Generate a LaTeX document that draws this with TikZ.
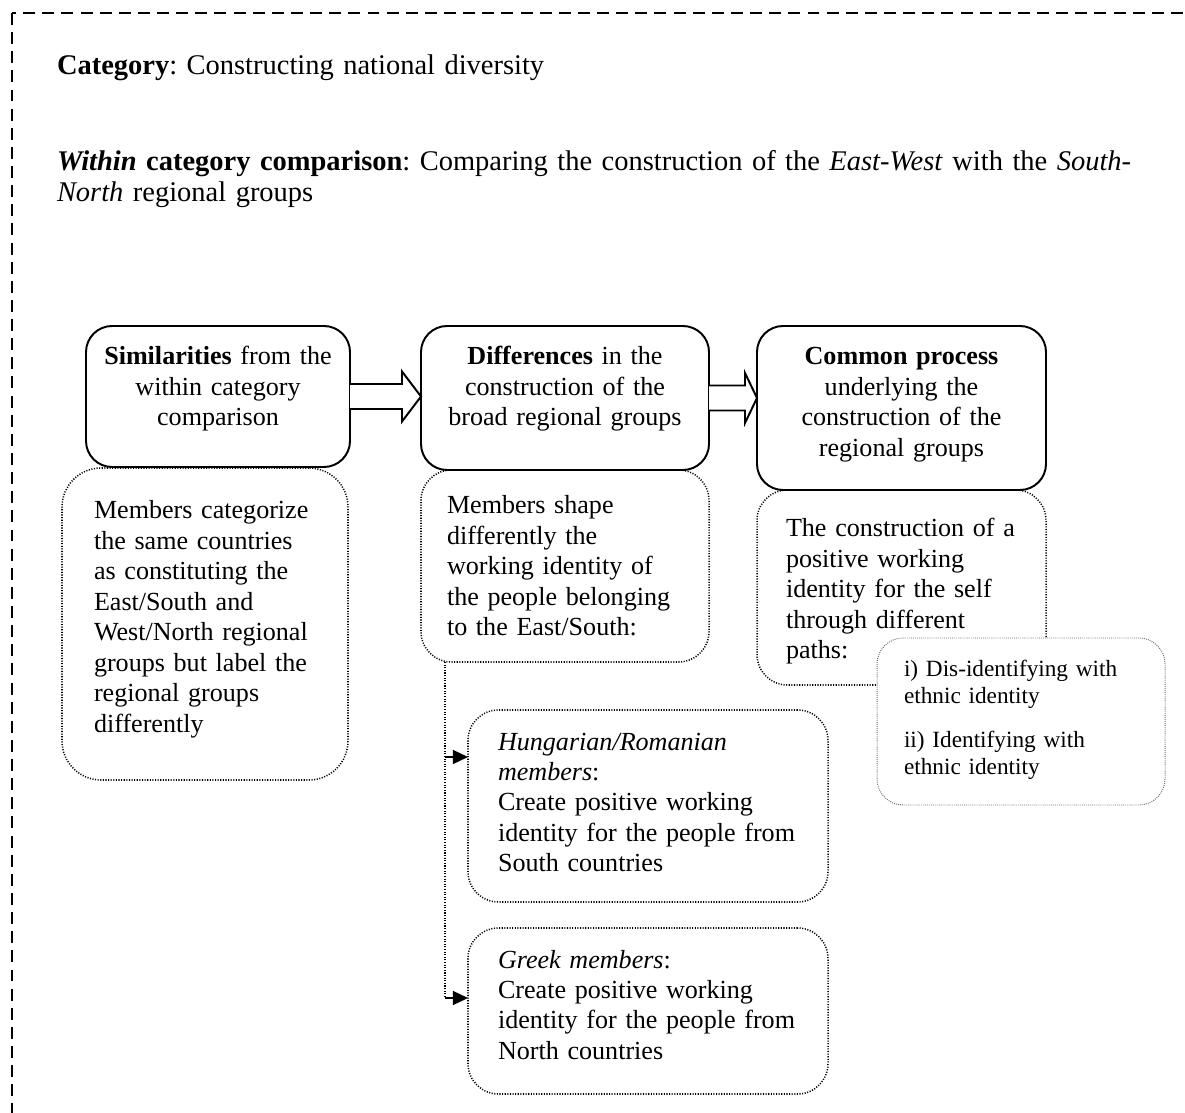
\documentclass[tikz,border=0pt]{standalone}
\usepackage{fontspec}
\setmainfont{Liberation Serif}
\usetikzlibrary{calc,arrows.meta}
\begin{document}
\frenchspacing
\begin{tikzpicture}[x=0.46pt,y=-0.46pt,
  every node/.style={inner sep=0pt,outer sep=0pt},
  solidbox/.style={draw,line width=0.9pt,rounded corners=12pt},
  dotbox/.style={draw,line width=0.7pt,dash pattern=on 0.5pt off 0.7pt,rounded corners=14pt},
  graybox/.style={draw=black!60,line width=0.45pt,dash pattern=on 0.4pt off 0.55pt,rounded corners=12pt,fill=white},
  body/.style={font=\fontsize{12}{14}\selectfont},
  titletext/.style={font=\fontsize{13.1}{14.2}\selectfont,anchor=base west,align=left,text width=560pt},
  lefttext/.style={body,anchor=base west,align=left,text width=#1},
  centertext/.style={body,anchor=base,align=center,text width=#1},
  blockarr/.style={draw,line width=0.9pt,fill=white},
  conn/.style={line width=0.7pt,dash pattern=on 0.5pt off 0.7pt},
  arr/.style={line width=0.7pt,-{Triangle[length=7pt,width=6.5pt]}}
]
\clip (0,0) rectangle (1185,1113);
\draw[dash pattern=on 5.5pt off 3.3pt,line width=0.7pt] (12,13) rectangle (1300,1300);

% titles
\node[titletext] (cat) at (57,75) {\textbf{Category}: Constructing national diversity};
\node[titletext] (within) at (57,171) {\textbf{\textit{Within} category comparison}: Comparing the construction of the \textit{East-West} with the \textit{South-}\\\textit{North} regional groups};

% solid boxes
\node[solidbox,minimum width=264*0.46pt,minimum height=141*0.46pt] (b1) at (218,396.5) {};
\node[solidbox,minimum width=288*0.46pt,minimum height=144*0.46pt] (b2) at (565,398) {};
\node[solidbox,minimum width=289*0.46pt,minimum height=164*0.46pt] (b3) at (901.5,408) {};
\node[centertext=260*0.46pt] (t1) at (218,365) {\textbf{Similarities} from the\\within category\\comparison};
\node[centertext=285*0.46pt] (t2) at (565,365) {\textbf{Differences} in the\\construction of the\\broad regional groups};
\node[centertext=285*0.46pt] (t3) at (901.5,365) {\textbf{Common process}\\underlying the\\construction of the\\regional groups};

% block arrows
\draw[blockarr] ($(b1.east)+(0,-12.5)$) -- ($(b1.east)+(52,-12.5)$) -- ($(b1.east)+(52,-25)$)
  -- (b2.west |- b1.east) -- ($(b1.east)+(52,25)$) -- ($(b1.east)+(52,12.5)$) -- ($(b1.east)+(0,12.5)$);
\draw[blockarr] ($(b2.east)+(0,-12.5)$) -- ($(b2.east)+(36,-12.5)$) -- ($(b2.east)+(36,-25)$)
  -- (b3.west |- b2.east) -- ($(b2.east)+(36,25)$) -- ($(b2.east)+(36,12.5)$) -- ($(b2.east)+(0,12.5)$);

% dotted boxes
\node[dotbox,rounded corners=18pt,minimum width=286*0.46pt,minimum height=312*0.46pt] (d1) at (205,624) {};
\node[dotbox,minimum width=288*0.46pt,minimum height=192*0.46pt] (d2) at (565,566) {};
\node[dotbox,minimum width=289*0.46pt,minimum height=195*0.46pt] (d3) at (901.5,587.5) {};
\node[dotbox,minimum width=360*0.46pt,minimum height=192*0.46pt] (d4) at (648,806) {};
\node[dotbox,minimum width=360*0.46pt,minimum height=166*0.46pt] (d5) at (648,1011) {};

\node[lefttext=250*0.46pt] (x1) at (94,519) {Members categorize\\the same countries\\as constituting the\\East/South and\\West/North regional\\groups but label the\\regional groups\\differently};
\node[lefttext=260*0.46pt] (x2) at (447,514) {Members shape\\differently the\\working identity of\\the people belonging\\to the East/South:};
\node[lefttext=260*0.46pt] (x3) at (786,537) {The construction of a\\positive working\\identity for the self\\through different\\paths:};
\node[lefttext=320*0.46pt] (x4) at (498,750) {\textit{Hungarian/Romanian}\\\textit{members}:\\Create positive working\\identity for the people from\\South countries};
\node[lefttext=320*0.46pt] (x5) at (498,968) {\textit{Greek members}:\\Create positive working\\identity for the people from\\North countries};

% gray box on top
\node[graybox,minimum width=288*0.46pt,minimum height=167*0.46pt] (g) at (1021,721.5) {};
\node[anchor=base west,align=left,text width=250*0.46pt,font=\fontsize{10.7}{12.4}\selectfont] (gt) at (904,677) {i) Dis-identifying with\\ethnic identity\\[7.5pt]ii) Identifying with\\ethnic identity};

% connectors
\coordinate (top) at (445,662);
\coordinate (j1) at (445,757);
\coordinate (j2) at (445,998);
\draw[conn] (top) -- (j2);
\draw[arr] (j1) -- (j1 -| d4.west);
\draw[arr] (j2) -- (j2 -| d5.west);
\end{tikzpicture}
\end{document}
